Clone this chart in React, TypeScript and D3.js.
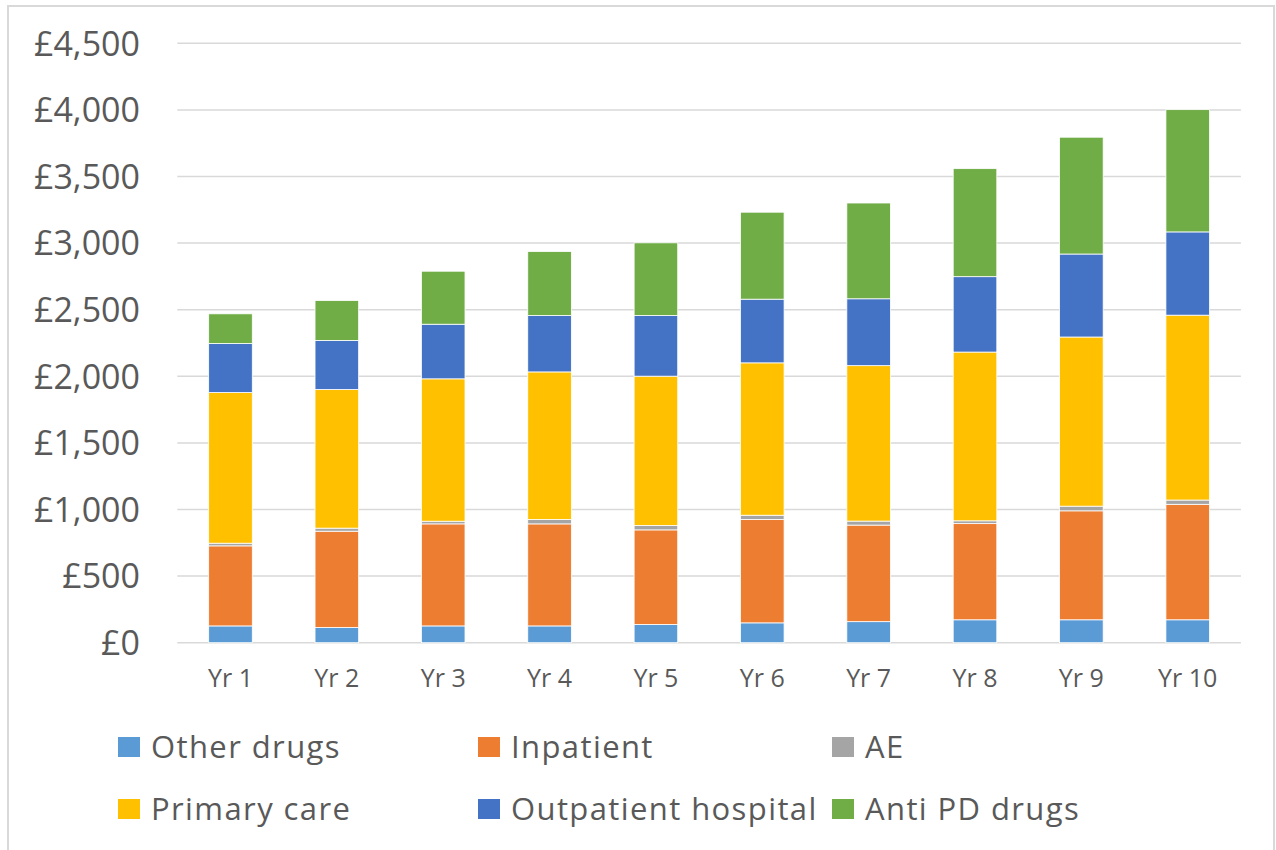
import React, { useEffect, useRef } from 'react';
import * as d3 from 'd3';

const years = ['Yr 1', 'Yr 2', 'Yr 3', 'Yr 4', 'Yr 5', 'Yr 6', 'Yr 7', 'Yr 8', 'Yr 9', 'Yr 10'];
const seriesNames = ['Other drugs', 'Inpatient', 'AE', 'Primary care', 'Outpatient hospital', 'Anti PD drugs'];
const seriesColors = ['#5B9BD5', '#ED7D31', '#A5A5A5', '#FFC000', '#4472C4', '#70AD47'];

const otherDrugs = [126, 114, 126, 126, 137, 149, 158, 172, 172, 172];
const inpatient = [601, 723, 766, 766, 710, 776, 725, 722, 818, 867];
const ae = [20, 23, 20, 33, 33, 32, 30, 21, 35, 32];
const primaryCare = [1131, 1041, 1069, 1108, 1121, 1144, 1167, 1267, 1270, 1388];
const outpatient = [368, 368, 410, 423, 455, 478, 502, 566, 623, 625];
const antiPD = [223, 300, 398, 481, 546, 653, 719, 811, 877, 918];

const yTicks = [0, 500, 1000, 1500, 2000, 2500, 3000, 3500, 4000, 4500];

const App = () => {
  const ref = useRef<SVGSVGElement>(null);
  const width = 1276;
  const height = 850;
  const font = '"Open Sans", sans-serif';
  const textColor = '#595959';

  useEffect(() => {
    const svg = d3.select(ref.current);
    svg.selectAll('*').remove();

    // chart frame
    svg.append('rect')
      .attr('x', 8).attr('y', 6)
      .attr('width', 1266).attr('height', 850)
      .attr('fill', '#fff')
      .attr('stroke', '#d9d9d9')
      .attr('stroke-width', 2);

    const seriesValues = [otherDrugs, inpatient, ae, primaryCare, outpatient, antiPD];
    const table = years.map((yr, i) => {
      const row: any = { year: yr };
      seriesNames.forEach((s, j) => { row[s] = seriesValues[j][i]; });
      return row;
    });

    const x = d3.scaleBand()
      .domain(years)
      .range([177.3, 1240.9])
      .paddingInner(0.59)
      .paddingOuter(0.295);

    const y = d3.scaleLinear()
      .domain([0, 4500])
      .range([642.7, 43.3]);

    // gridlines
    svg.append('g')
      .selectAll('line')
      .data(yTicks)
      .join('line')
      .attr('x1', 177.3).attr('x2', 1240.9)
      .attr('y1', d => y(d)).attr('y2', d => y(d))
      .attr('stroke', '#d9d9d9')
      .attr('stroke-width', 1.5);

    // y labels
    svg.append('g')
      .selectAll('text')
      .data(yTicks)
      .join('text')
      .attr('x', 140)
      .attr('y', d => y(d))
      .attr('dy', '0.36em')
      .attr('text-anchor', 'end')
      .attr('font-family', font)
      .attr('font-size', 34)
      .attr('fill', textColor)
      .text(d => '£' + d3.format(',')(d));

    // stacked bars
    const stacked = d3.stack().keys(seriesNames)(table);
    svg.append('g')
      .selectAll('g')
      .data(stacked)
      .join('g')
      .attr('fill', (d, i) => seriesColors[i])
      .selectAll('rect')
      .data(d => d)
      .join('rect')
      .attr('x', (d: any) => x(d.data.year)!)
      .attr('y', d => y(d[1]))
      .attr('width', x.bandwidth())
      .attr('height', d => y(d[0]) - y(d[1]))
      .attr('stroke', '#fff')
      .attr('stroke-width', 0.8);

    // x labels
    svg.append('g')
      .selectAll('text')
      .data(years)
      .join('text')
      .attr('x', d => x(d)! + x.bandwidth() / 2)
      .attr('y', 687)
      .attr('text-anchor', 'middle')
      .attr('font-family', font)
      .attr('font-size', 25)
      .attr('fill', textColor)
      .text(d => d);

    // legend
    const legendCols = [118, 478, 832];
    const legendRows = [747, 809];
    const legend = svg.append('g')
      .selectAll('g')
      .data(seriesNames)
      .join('g')
      .attr('transform', (d, i) => `translate(${legendCols[i % 3]},${legendRows[Math.floor(i / 3)]})`);

    legend.append('rect')
      .attr('x', 0).attr('y', -10)
      .attr('width', 22).attr('height', 20)
      .attr('fill', (d, i) => seriesColors[i]);

    legend.append('text')
      .attr('x', 33)
      .attr('y', 0)
      .attr('dy', '0.36em')
      .attr('font-family', font)
      .attr('font-size', 31)
      .attr('letter-spacing', 1.4)
      .attr('fill', textColor)
      .text(d => d);
  }, []);

  return (
    <div style={{ position: 'absolute', left: 0, top: 0 }}>
      <svg ref={ref} width={width} height={height} style={{ display: 'block' }} />
    </div>
  );
};

export default App;
